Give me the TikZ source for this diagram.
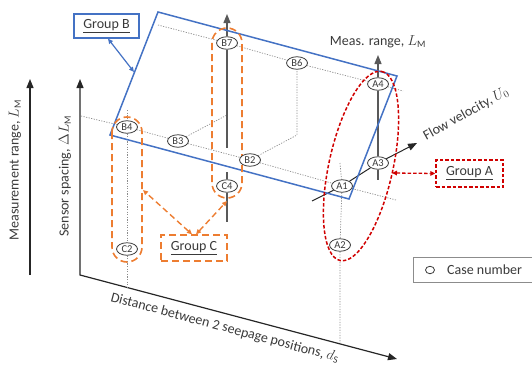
\documentclass[tikz,border=0pt]{standalone}
\usepackage{fontspec}
\setmainfont{Carlito}
\usetikzlibrary{arrows.meta, shapes.geometric, backgrounds}
\definecolor{plblue}{HTML}{4472C4}
\definecolor{grorange}{HTML}{ED7D31}
\definecolor{grred}{HTML}{D00000}
\definecolor{axgray}{HTML}{262626}
\definecolor{lngray}{HTML}{595959}
\definecolor{dtgray}{HTML}{8C8C8C}
\definecolor{txgray}{HTML}{3A3A3A}

\begin{document}
\begin{tikzpicture}[x=1pt, y=-1pt,
  >={Triangle[length=9pt, width=7pt]},
  lbl/.style={text=txgray, font=\fontsize{14}{16}\selectfont, inner sep=1pt},
  case/.style={ellipse, draw=txgray, line width=0.8pt, fill=white, text=txgray,
    font=\fontsize{10.5}{11}\selectfont, inner sep=0pt,
    minimum width=21pt, minimum height=12.5pt},
  grpbox/.style={rectangle, line width=1.3pt, fill=white, text=txgray,
    font=\fontsize{14}{16}\selectfont, inner sep=0pt},
  axis/.style={axgray, line width=1.2pt},
  meas/.style={lngray, line width=1.2pt},
  dots/.style={dtgray, line width=0.7pt, dash pattern=on 1.2pt off 1.4pt},
  smtip/.style={{Triangle[length=5pt, width=4.5pt]}-{Triangle[length=5pt, width=4.5pt]}}]

% Frame of the figure
\useasboundingbox (0,0) rectangle (532,372);

% Case numbers
\node[case] (B7) at (227,43) {B7};
\node[case] (B6) at (297,63) {B6};
\node[case] (A4) at (378,84) {A4};
\node[case] (B4) at (127,127) {B4};
\node[case] (B3) at (178,141) {B3};
\node[case] (B2) at (250,160) {B2};
\node[case] (A3) at (378,163) {A3};
\node[case] (A1) at (342,186) {A1};
\node[case] (C4) at (227,186) {C4};
\node[case] (A2) at (340,245) {A2};
\node[case] (C2) at (127,249) {C2};

% Group labels
\node[grpbox, draw=plblue, minimum width=65pt, minimum height=24pt]
  (grpB) at (106.5,26) {\underline{Group B}};
\node[grpbox, draw=grred, dash pattern=on 3.5pt off 2pt,
  minimum width=67pt, minimum height=27pt]
  (grpA) at (469.5,173.5) {\underline{Group A}};
\node[grpbox, draw=grorange, dash pattern=on 7pt off 4pt,
  minimum width=66pt, minimum height=26pt]
  (grpC) at (194,248) {\underline{Group C}};

% Legend
\node[draw=dtgray, line width=1pt, fill=white, minimum width=121pt,
  minimum height=25pt] (legend) at (473.5,269.5) {};
\node[ellipse, draw=txgray, line width=0.8pt, inner sep=0pt,
  minimum width=9pt, minimum height=7.5pt] (legmark) at (430,270) {};
\node[lbl, anchor=west] (legtext) at (446,270) {Case number};

% Axis labels
\node[lbl, rotate=90] (mrlbl) at (15,170) {Measurement range, $L_{\mathrm{M}}$};
\node[lbl, rotate=90] (sslbl) at (65,176) {Sensor spacing, $\Delta L_{\mathrm{M}}$};
\node[lbl, rotate=-15] (dslbl) at (225,328)
  {Distance between 2 seepage positions, $d_{\mathrm{S}}$};
\node[lbl] (measlbl) at (378,42) {Meas. range, $L_{\mathrm{M}}$};
\node[lbl, rotate=29] (flowlbl) at (466,114) {Flow velocity, $U_0$};

\begin{scope}[on background layer]
% Axes
\coordinate (mrbot) at (30,275);
\coordinate (mrtop) at (30,79);
\draw[axis, ->] (mrbot) -- (mrtop);
\coordinate (sstop) at (80,79);
\coordinate (orig) at (80,275);
\coordinate (dsend) at (397,359);
\draw[axis, <->] (sstop) -- (orig) -- (dsend);

% Grid of dotted guide lines
\coordinate (up0) at (158,25);
\coordinate (up1) at (403,91);
\coordinate (lo0) at (81,116);
\coordinate (lo1) at (396,200);
\draw[dots] (up0) -- (B7) -- (B6) -- (A4) -- (up1);
\draw[dots] (lo0) -- (B4) -- (B3) -- (B2) -- (A1) -- (lo1);
\coordinate (dp1) at (227,115);
\coordinate (dp2) at (297,135);
\draw[dots] (B3) -- (dp1);
\draw[dots] (B2) -- (dp2) -- (B6);
\coordinate (v1top) at (127,110);
\coordinate (v1bot) at (127,287);
\draw[dots] (v1top) -- (B4) -- (C2) -- (v1bot);
\coordinate (v2top) at (340,163);
\coordinate (v2bot) at (340,343);
\draw[dots] (v2top) -- (A1);
\draw[dots] (A1) -- (A2) -- (v2bot);

% Measurement range lines
\coordinate (btip) at (227,14);
\coordinate (bgap1) at (227,148);
\coordinate (bgap2) at (227,172);
\coordinate (bend) at (227,222);
\draw[meas, ->] (B7) -- (btip);
\draw[meas] (B7) -- (bgap1);
\draw[meas] (bgap2) -- (C4) -- (bend);
\coordinate (atip) at (378,55);
\coordinate (aend) at (378,180);
\draw[meas, ->] (A4) -- (atip);
\draw[meas] (A4) -- (A3) -- (aend);

% Flow velocity
\coordinate (fstart) at (312,201);
\coordinate (ftip) at (417,143);
\draw[axis, line width=1pt] (fstart) -- (A1) -- (A3);
\draw[axis, line width=1pt, ->] (A3) -- (ftip);

% Group B plane
\coordinate (pTL) at (158,12);
\coordinate (pTR) at (397,76);
\coordinate (pBR) at (349,199);
\coordinate (pBL) at (110,135);
\draw[plblue, line width=1.5pt] (pTL) -- (pTR) -- (pBR) -- (pBL) -- cycle;
\coordinate (bmark) at (134,72);
\draw[plblue, line width=1.2pt, smtip] ([xshift=1.5pt]grpB.south) -- (bmark);

% Group A ellipse
\draw[grred, line width=1.5pt, dash pattern=on 3.5pt off 2pt]
  (361,166) ellipse [x radius=96.8, y radius=32, rotate=77.5];
\coordinate (amark) at (392,173);
\draw[grred, line width=1.3pt, dash pattern=on 3.5pt off 2pt, smtip]
  (amark) -- (grpA.west);

% Group C outlines
\draw[grorange, line width=1.6pt, dash pattern=on 7pt off 4pt,
  rounded corners=15pt] (112,117) rectangle (142,262);
\draw[grorange, line width=1.6pt, dash pattern=on 7pt off 4pt,
  rounded corners=15pt] (212,28) rectangle (242,198);
\coordinate (cmark1) at (143,190);
\coordinate (cmark2) at (227,201);
\draw[grorange, line width=1.4pt, dash pattern=on 6pt off 3.5pt, smtip]
  ([xshift=-2pt]grpC.north) -- (cmark1);
\draw[grorange, line width=1.4pt, dash pattern=on 6pt off 3.5pt, smtip]
  ([xshift=2pt]grpC.north) -- (cmark2);
\end{scope}

\end{tikzpicture}
\end{document}
